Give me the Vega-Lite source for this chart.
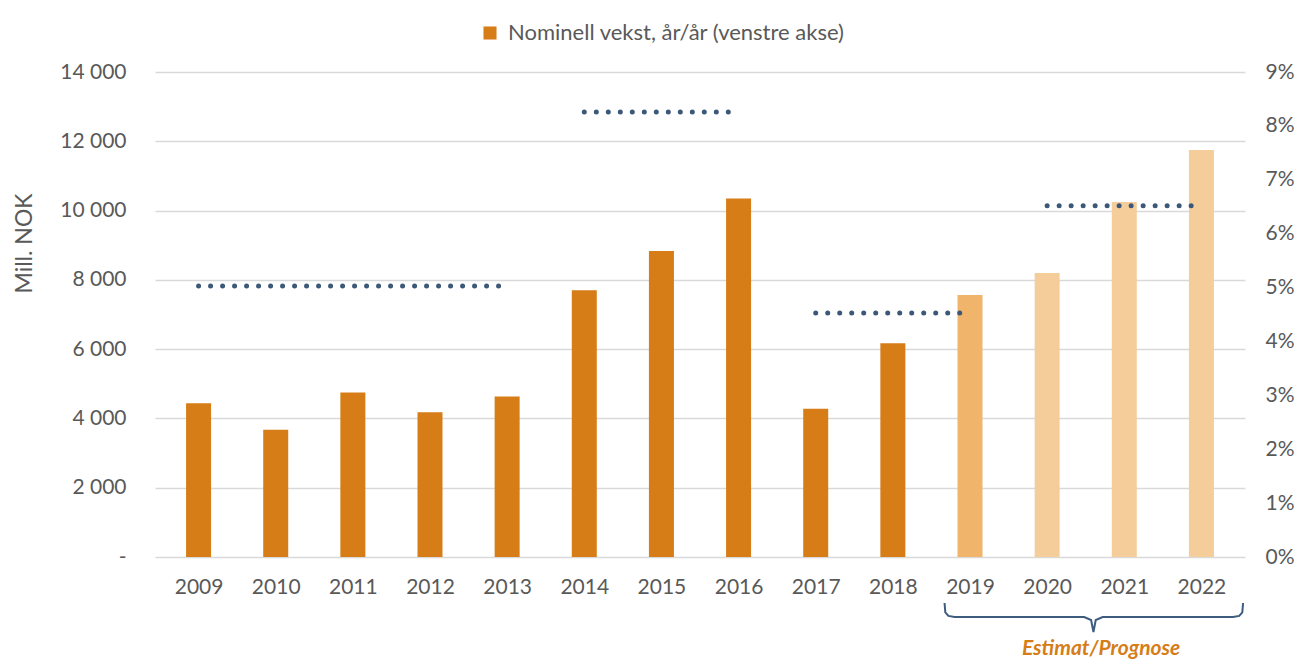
{
  "$schema": "https://vega.github.io/schema/vega-lite/v6.json",
  "autosize": "none",
  "width": 1090,
  "height": 485,
  "padding": {"left": 155, "top": 72, "right": 60, "bottom": 103},
  "background": "white",
  "config": {
    "view": {"stroke": null},
    "font": "Lato",
    "text": {"font": "Lato"}
  },
  "datasets": {
    "bars": [
      {"aar": 2009, "verdi": 4440, "kategori": "Nominell vekst, år/år (venstre akse)"},
      {"aar": 2010, "verdi": 3675, "kategori": "Nominell vekst, år/år (venstre akse)"},
      {"aar": 2011, "verdi": 4750, "kategori": "Nominell vekst, år/år (venstre akse)"},
      {"aar": 2012, "verdi": 4180, "kategori": "Nominell vekst, år/år (venstre akse)"},
      {"aar": 2013, "verdi": 4635, "kategori": "Nominell vekst, år/år (venstre akse)"},
      {"aar": 2014, "verdi": 7700, "kategori": "Nominell vekst, år/år (venstre akse)"},
      {"aar": 2015, "verdi": 8830, "kategori": "Nominell vekst, år/år (venstre akse)"},
      {"aar": 2016, "verdi": 10345, "kategori": "Nominell vekst, år/år (venstre akse)"},
      {"aar": 2017, "verdi": 4280, "kategori": "Nominell vekst, år/år (venstre akse)"},
      {"aar": 2018, "verdi": 6170, "kategori": "Nominell vekst, år/år (venstre akse)"},
      {"aar": 2019, "verdi": 7560, "kategori": "Estimat"},
      {"aar": 2020, "verdi": 8195, "kategori": "Prognose"},
      {"aar": 2021, "verdi": 10250, "kategori": "Prognose"},
      {"aar": 2022, "verdi": 11750, "kategori": "Prognose"}
    ],
    "snitt": [
      {"aar": 2009, "periode": "2009–2013", "pst": 5.03},
      {"aar": 2010, "periode": "2009–2013", "pst": 5.03},
      {"aar": 2011, "periode": "2009–2013", "pst": 5.03},
      {"aar": 2012, "periode": "2009–2013", "pst": 5.03},
      {"aar": 2013, "periode": "2009–2013", "pst": 5.03},
      {"aar": 2014, "periode": "2014–2016", "pst": 8.26},
      {"aar": 2015, "periode": "2014–2016", "pst": 8.26},
      {"aar": 2016, "periode": "2014–2016", "pst": 8.26},
      {"aar": 2017, "periode": "2017–2019", "pst": 4.53},
      {"aar": 2018, "periode": "2017–2019", "pst": 4.53},
      {"aar": 2019, "periode": "2017–2019", "pst": 4.53},
      {"aar": 2020, "periode": "2020–2022", "pst": 6.52},
      {"aar": 2021, "periode": "2020–2022", "pst": 6.52},
      {"aar": 2022, "periode": "2020–2022", "pst": 6.52}
    ],
    "klamme": [
      {"aar": 2018.67, "y": -1328, "rekke": 1},
      {"aar": 2018.68, "y": -1600, "rekke": 2},
      {"aar": 2018.72, "y": -1700, "rekke": 3},
      {"aar": 2018.80, "y": -1732, "rekke": 4},
      {"aar": 2020.48, "y": -1732, "rekke": 5},
      {"aar": 2020.57, "y": -1820, "rekke": 6},
      {"aar": 2020.60, "y": -2165, "rekke": 7},
      {"aar": 2020.63, "y": -1820, "rekke": 8},
      {"aar": 2020.72, "y": -1732, "rekke": 9},
      {"aar": 2022.41, "y": -1732, "rekke": 10},
      {"aar": 2022.49, "y": -1700, "rekke": 11},
      {"aar": 2022.53, "y": -1600, "rekke": 12},
      {"aar": 2022.54, "y": -1328, "rekke": 13}
    ],
    "etikett": [
      {"aar": 2020.70, "y": -2656, "tekst": "Estimat/Prognose"}
    ]
  },
  "encoding": {
    "x": {
      "field": "aar",
      "type": "quantitative",
      "scale": {"domain": [2008.5, 2022.5], "nice": false, "zero": false},
      "axis": {
        "title": null,
        "values": [2009, 2010, 2011, 2012, 2013, 2014, 2015, 2016, 2017, 2018, 2019, 2020, 2021, 2022],
        "format": "d",
        "grid": false,
        "domain": false,
        "ticks": false,
        "labelFont": "Lato",
        "labelFontSize": 21,
        "labelColor": "#595959",
        "labelPadding": 19,
        "labelFlush": false,
        "labelOverlap": false
      }
    }
  },
  "layer": [
    {
      "data": {"name": "bars"},
      "mark": {"type": "bar", "width": 25},
      "encoding": {
        "y": {
          "field": "verdi",
          "type": "quantitative",
          "scale": {"domain": [0, 14000], "nice": false},
          "axis": {
            "title": "Mill. NOK",
            "titleFont": "Lato",
            "titleFontSize": 23,
            "titleFontWeight": "normal",
            "titleColor": "#595959",
            "titleAngle": -90,
            "titleX": -131,
            "titleY": 171,
            "titleAlign": "center",
            "titleBaseline": "middle",
            "values": [0, 2000, 4000, 6000, 8000, 10000, 12000, 14000],
            "labelExpr": "datum.value == 0 ? '-' : replace(format(datum.value, ','), ',', ' ')",
            "labelFont": "Lato",
            "labelFontSize": 21,
            "labelColor": "#595959",
            "labelPadding": 29,
            "domain": false,
            "ticks": false,
            "grid": true,
            "gridColor": "#D9D9D9",
            "gridWidth": 1.5
          }
        },
        "color": {
          "field": "kategori",
          "type": "nominal",
          "scale": {
            "domain": ["Nominell vekst, år/år (venstre akse)", "Estimat", "Prognose"],
            "range": ["#D67D17", "#F0B46A", "#F5CD9A"]
          },
          "legend": {
            "values": ["Nominell vekst, år/år (venstre akse)"],
            "title": null,
            "orient": "none",
            "legendX": 324,
            "legendY": -50,
            "symbolType": "square",
            "symbolSize": 170,
            "symbolStrokeWidth": 0,
            "labelFont": "Lato",
            "labelFontSize": 22,
            "labelColor": "#595959",
            "labelOffset": 7,
            "labelLimit": 700
          }
        }
      }
    },
    {
      "data": {"name": "klamme"},
      "mark": {"type": "line", "color": "#3E5C7E", "strokeWidth": 2, "clip": false},
      "encoding": {
        "y": {"field": "y", "type": "quantitative", "scale": {"domain": [0, 14000], "nice": false}, "axis": null},
        "order": {"field": "rekke"}
      }
    },
    {
      "data": {"name": "etikett"},
      "mark": {"type": "text", "color": "#D67D17", "font": "Lato", "fontSize": 21, "fontWeight": "bold", "fontStyle": "italic", "baseline": "middle", "align": "center", "clip": false},
      "encoding": {
        "y": {"field": "y", "type": "quantitative", "scale": {"domain": [0, 14000], "nice": false}, "axis": null},
        "text": {"field": "tekst"}
      }
    },
    {
      "data": {"name": "snitt"},
      "mark": {"type": "line", "color": "#3B5878", "strokeWidth": 5, "strokeCap": "round", "strokeDash": [0, 12]},
      "encoding": {
        "y": {
          "field": "pst",
          "type": "quantitative",
          "scale": {"domain": [0, 9], "nice": false},
          "axis": {
            "orient": "right",
            "title": null,
            "values": [0, 1, 2, 3, 4, 5, 6, 7, 8, 9],
            "labelExpr": "datum.value + '%'",
            "labelFont": "Lato",
            "labelFontSize": 21,
            "labelColor": "#595959",
            "labelPadding": 20,
            "domain": false,
            "ticks": false,
            "grid": false
          }
        },
        "detail": {"field": "periode"}
      }
    }
  ],
  "resolve": {"scale": {"y": "independent"}}
}
